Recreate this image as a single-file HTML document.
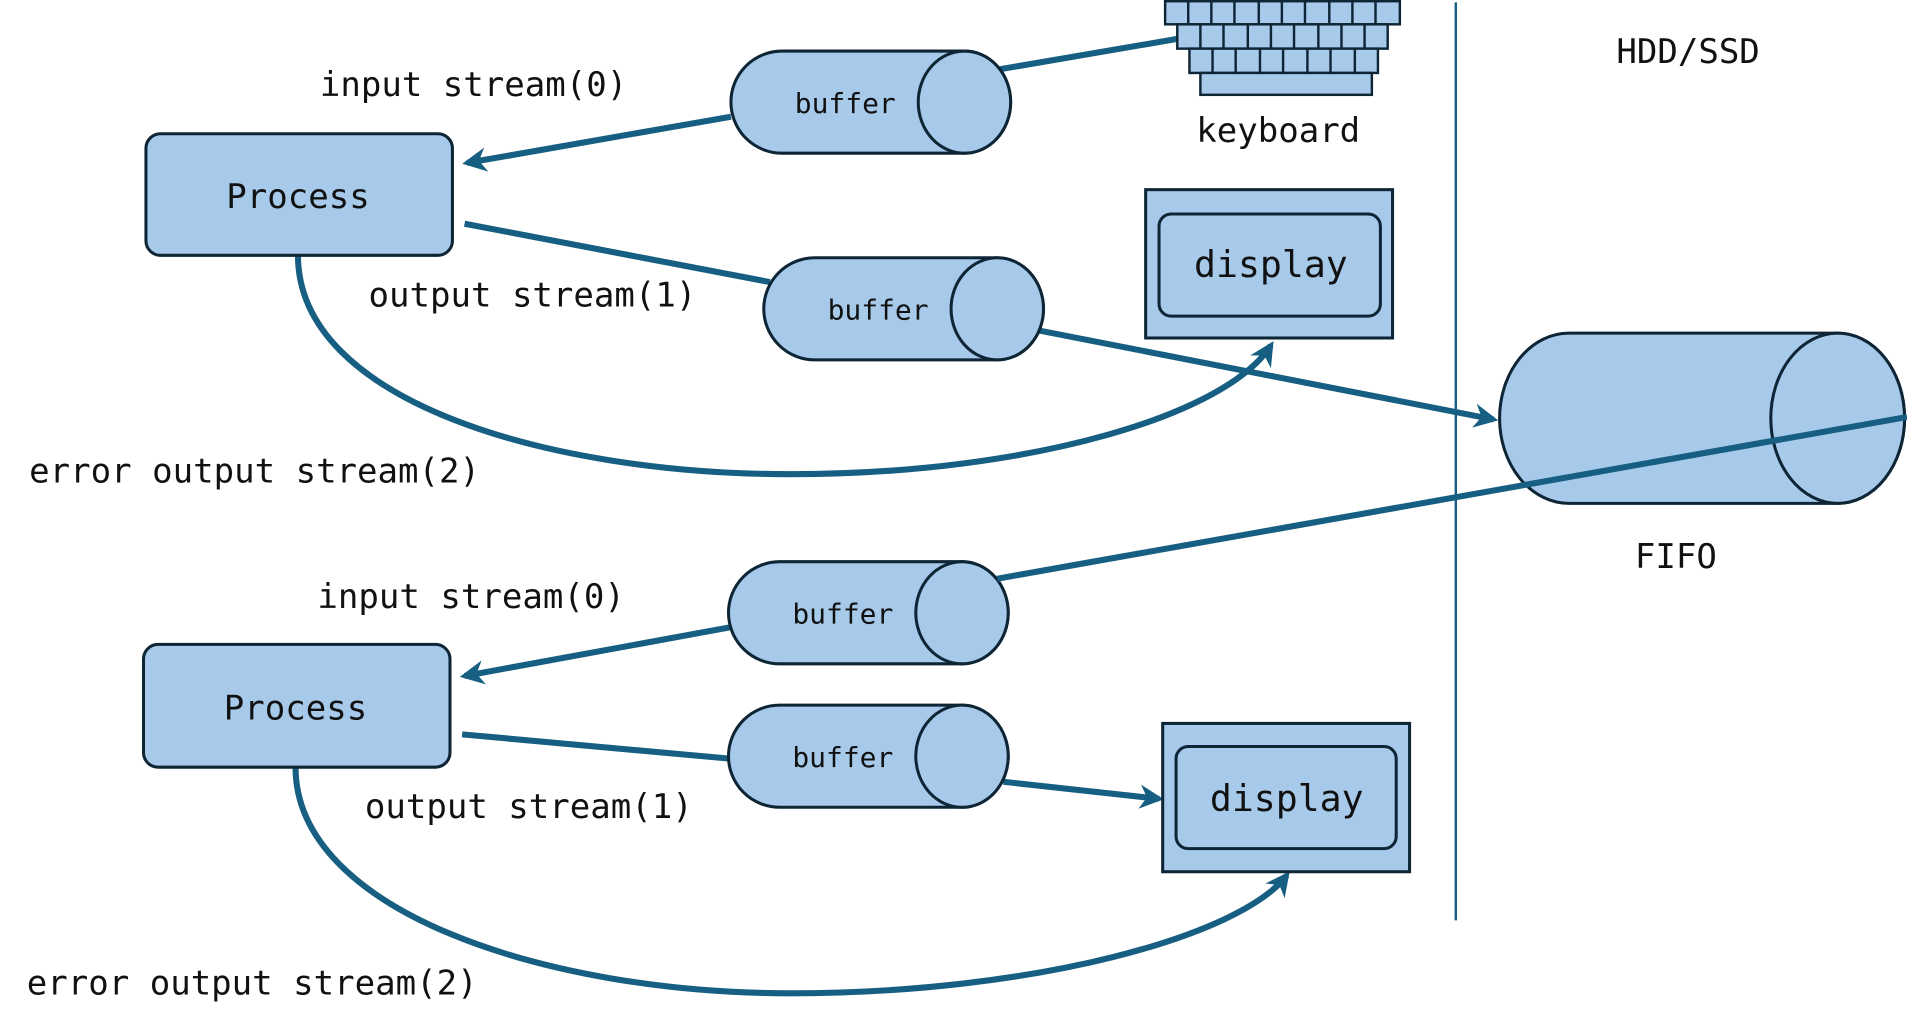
<!DOCTYPE html>
<html><head><meta charset="utf-8"><style>
html,body{margin:0;padding:0;background:#fff;}
svg{display:block;}
text{font-family:"DejaVu Sans Mono","Liberation Mono",monospace;fill:#111;}
</style></head><body>
<svg width="1907" height="1031" viewBox="0 0 1568 848" preserveAspectRatio="none" xmlns="http://www.w3.org/2000/svg">
<defs>
<marker id="ah" viewBox="0 0 10 10" refX="8" refY="5" markerWidth="4" markerHeight="4" orient="auto" markerUnits="strokeWidth">
<path d="M0,0 L10,5 L0,10 L3,5 z" fill="#175f82"/>
</marker>
<g id="cyl">
<path d="M42,0 H192 A38,42 0 0 1 192,84 H42 A42,42 0 0 1 42,0 z" fill="#a7caeb" stroke="#0d2535" stroke-width="2.5"/>
<ellipse cx="192" cy="42" rx="38" ry="42" fill="#a7caeb" stroke="#0d2535" stroke-width="2.5"/>
</g>
</defs>
<g fill="none" stroke="#175f82" stroke-width="5">
<line x1="822" y1="57" x2="968" y2="32"/>
<line x1="601" y1="96" x2="384" y2="134" marker-end="url(#ah)"/>
<line x1="382" y1="184" x2="633" y2="232"/>
<line x1="855" y1="272" x2="1228" y2="345" marker-end="url(#ah)"/>
<path d="M245,210 C245,330 450,390 650,390 C850,390 1010,340 1045,284" marker-end="url(#ah)"/>
<line x1="600" y1="516" x2="382" y2="556" marker-end="url(#ah)"/>
<line x1="380" y1="604" x2="600" y2="624"/>
<line x1="825" y1="643" x2="953" y2="657" marker-end="url(#ah)"/>
<path d="M243,631 C243,750 450,817 650,817 C850,817 1020,770 1058,720" marker-end="url(#ah)"/>
</g>
<line x1="1197" y1="2" x2="1197" y2="757" stroke="#175f82" stroke-width="2"/>
<!-- processes -->
<rect x="120" y="110" width="252" height="100" rx="12" fill="#a7caeb" stroke="#0d2535" stroke-width="2.5"/>
<text x="245" y="171" font-size="28" text-anchor="middle">Process</text>
<rect x="118" y="530" width="252" height="101" rx="12" fill="#a7caeb" stroke="#0d2535" stroke-width="2.5"/>
<text x="243" y="592" font-size="28" text-anchor="middle">Process</text>
<!-- buffers -->
<use href="#cyl" x="601" y="42"/><text x="695" y="93" font-size="23" text-anchor="middle">buffer</text>
<use href="#cyl" x="628" y="212"/><text x="722" y="263" font-size="23" text-anchor="middle">buffer</text>
<use href="#cyl" x="599" y="462"/><text x="693" y="513" font-size="23" text-anchor="middle">buffer</text>
<use href="#cyl" x="599" y="580"/><text x="693" y="631" font-size="23" text-anchor="middle">buffer</text>
<!-- FIFO -->
<path d="M1290,274 H1511 A55,70 0 0 1 1511,414 H1290 A57,70 0 0 1 1290,274 z" fill="#a7caeb" stroke="#0d2535" stroke-width="2.5"/>
<ellipse cx="1511" cy="344" rx="55" ry="70" fill="#a7caeb" stroke="#0d2535" stroke-width="2.5"/>
<line x1="820" y1="476" x2="1568" y2="343" stroke="#175f82" stroke-width="5"/>
<!-- keyboard -->
<g fill="#a7caeb" stroke="#0d2535" stroke-width="2">
<rect x="958" y="1" width="193" height="19"/>
<rect x="968" y="20" width="173" height="20"/>
<rect x="978" y="40" width="155" height="20"/>
<rect x="987" y="60" width="141" height="18"/>
<path d="M977,1V20M996,1V20M1015,1V20M1035,1V20M1054,1V20M1073,1V20M1093,1V20M1112,1V20M1131,1V20M987,20V40M1006,20V40M1026,20V40M1045,20V40M1064,20V40M1084,20V40M1103,20V40M1122,20V40M997,40V60M1016,40V60M1036,40V60M1055,40V60M1075,40V60M1094,40V60M1114,40V60"/>
</g>
<text x="1051" y="117" font-size="28" text-anchor="middle">keyboard</text>
<!-- displays -->
<rect x="942" y="156" width="203" height="122" fill="#a7caeb" stroke="#0d2535" stroke-width="2.5"/>
<rect x="953" y="176" width="182" height="84" rx="10" fill="#a7caeb" stroke="#0d2535" stroke-width="2.5"/>
<text x="1045" y="228" font-size="30" text-anchor="middle">display</text>
<rect x="956" y="595" width="203" height="122" fill="#a7caeb" stroke="#0d2535" stroke-width="2.5"/>
<rect x="967" y="614" width="181" height="84" rx="10" fill="#a7caeb" stroke="#0d2535" stroke-width="2.5"/>
<text x="1058" y="667" font-size="30" text-anchor="middle">display</text>
<!-- labels -->
<g font-size="28">
<text x="263" y="79">input stream(0)</text>
<text x="303" y="252">output stream(1)</text>
<text x="24" y="397">error output stream(2)</text>
<text x="261" y="500">input stream(0)</text>
<text x="300" y="673">output stream(1)</text>
<text x="22" y="818">error output stream(2)</text>
<text x="1388" y="52" text-anchor="middle">HDD/SSD</text>
<text x="1378" y="467" text-anchor="middle">FIFO</text>
</g>
</svg>
</body></html>
